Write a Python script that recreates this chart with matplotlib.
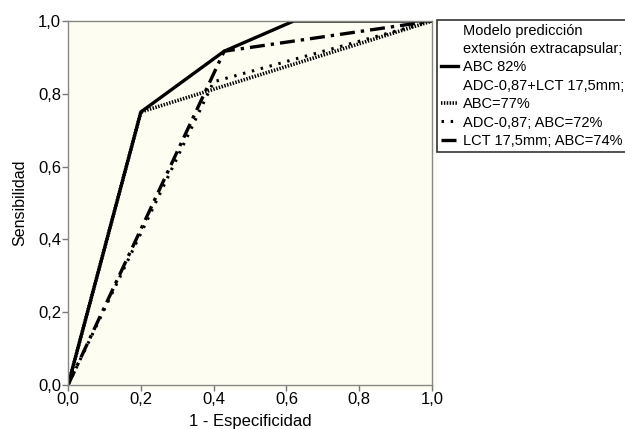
import matplotlib.pyplot as plt
from matplotlib.lines import Line2D
from matplotlib.patches import Rectangle

plt.rcParams['font.family'] = ['Liberation Sans', 'DejaVu Sans']

# curvas ROC
x_abc82 = [0.0, 0.2, 0.429, 0.62, 1.0]
y_abc82 = [0.0, 0.75, 0.917, 1.0, 1.0]

x_abc77 = [0.0, 0.2, 1.0]
y_abc77 = [0.0, 0.75, 1.0]

x_abc72 = [0.0, 0.4, 1.0]
y_abc72 = [0.0, 0.833, 1.0]

x_abc74 = [0.0, 0.429, 1.0]
y_abc74 = [0.0, 0.917, 1.0]

ticks = [0.0, 0.2, 0.4, 0.6, 0.8, 1.0]
tick_labels = ["0,0", "0,2", "0,4", "0,6", "0,8", "1,0"]

fig = plt.figure(figsize=(6.25, 4.29), dpi=100)
# fondo crema detras del grafico
fig.patches.append(Rectangle((68 / 625, 1 - 390 / 429), (437 - 68) / 625, 370 / 429,
                             transform=fig.transFigure, facecolor='#fefdf2',
                             edgecolor='none', zorder=-5))
ax = fig.add_axes([0.109, 0.103, 0.582, 0.848])
ax.set_facecolor('#fefdf2')

l1, = ax.plot(x_abc82, y_abc82, color='black', lw=2.4, solid_joinstyle='miter')
l2, = ax.plot(x_abc77, y_abc77, color='black', lw=2.6, dashes=(0.4, 0.4))
l3, = ax.plot(x_abc72, y_abc72, color='black', lw=2.2, dashes=(0.8, 2.2))
l4, = ax.plot(x_abc74, y_abc74, color='black', lw=2.4, dashes=(4.5, 1.8, 1.0, 1.8))

ax.set_xlim(0, 1)
ax.set_ylim(0, 1)
ax.set_xticks(ticks)
ax.set_xticklabels(tick_labels, fontsize=12)
ax.set_yticks(ticks)
ax.set_yticklabels(tick_labels, fontsize=12)
ax.tick_params(direction='out', length=4, width=1, color='#777777', pad=1)
for s in ax.spines.values():
    s.set_color('#888888')
    s.set_linewidth(1.0)

ax.set_xlabel("1 - Especificidad", fontsize=12, labelpad=5)
ax.set_ylabel("Sensibilidad", fontsize=11.5, labelpad=8)

blank = Line2D([], [], color='none')
handles = [blank, blank, l1, blank, l2, l3, l4]
labels = ["Modelo predicción", "extensión extracapsular;", "ABC 82%",
          "ADC-0,87+LCT 17,5mm;", "ABC=77%", "ADC-0,87; ABC=72%",
          "LCT 17,5mm; ABC=74%"]
leg = fig.legend(handles, labels, loc='upper left',
                 bbox_to_anchor=(437 / 625, 1 - 20 / 429),
                 fontsize=10.5, frameon=True, fancybox=False,
                 handlelength=1.2, handletextpad=0.3, labelspacing=0.3,
                 borderpad=0.25, borderaxespad=0)
leg.get_frame().set_edgecolor('black')
leg.get_frame().set_linewidth(1.2)
leg.get_frame().set_facecolor('white')

plt.savefig('out.png', dpi=100)
